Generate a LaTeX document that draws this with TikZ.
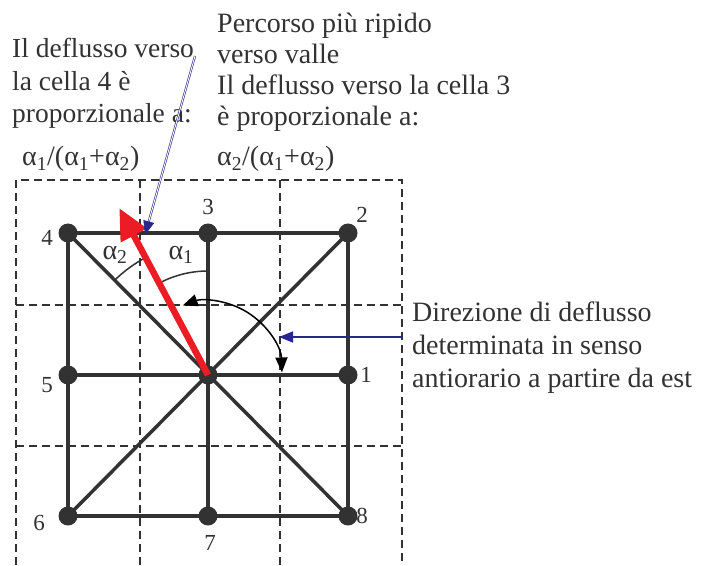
\documentclass[tikz,border=0pt]{standalone}
\usepackage{fontspec}
\setmainfont{Liberation Serif}
\usetikzlibrary{arrows.meta}
\definecolor{gridblack}{RGB}{50,50,50}
\definecolor{flowred}{RGB}{236,28,36}
\definecolor{notenavy}{RGB}{40,40,140}

\begin{document}
\begin{tikzpicture}[x=1pt, y=1pt,
  every node/.style={inner sep=0pt},
  cell/.style={draw=gridblack, line width=1.2pt, dash pattern=on 8pt off 5pt},
  link/.style={draw=gridblack, line width=3.5pt},
  dot/.style={circle, fill=gridblack, minimum size=19pt},
  num/.style={font=\fontsize{23}{26}\selectfont, text=gridblack},
  greek/.style={font=\fontsize{28}{32}\selectfont, text=gridblack},
  note/.style={font=\fontsize{28}{32.5}\selectfont, align=left, anchor=base west, text=gridblack},
  steep/.style={draw=flowred, line width=6.5pt, -{Triangle[length=31pt, width=28pt]}},
  pointer/.style={draw=notenavy, line width=1.6pt, -{Triangle[length=14pt, width=11pt]}},
  angarc/.style={draw=gridblack, line width=1.5pt},
  turn/.style={draw=black, line width=1.5pt, {Triangle[length=15pt, width=12pt]}-{Triangle[length=15pt, width=12pt]}}
]
  \useasboundingbox (0,0) rectangle (708,565);

  % dashed cells
  \draw[cell] (16,0) -- (16,385) -- (402,385) -- (402,0);
  \foreach \gx in {140,280} \draw[cell] (\gx,0) -- (\gx,385);
  \foreach \gy in {260,119} \draw[cell] (16,\gy) -- (402,\gy);

  % cell centres
  \coordinate (n4) at (68,332);
  \coordinate (n3) at (208,332);
  \coordinate (n2) at (348,332);
  \coordinate (n5) at (68,190);
  \coordinate (c)  at (208,190);
  \coordinate (n1) at (348,190);
  \coordinate (n6) at (68,49);
  \coordinate (n7) at (208,49);
  \coordinate (n8) at (348,49);

  \draw[link] (n4) -- (n2) -- (n8) -- (n6) -- cycle;
  \draw[link] (n3) -- (n7);
  \draw[link] (n5) -- (n1);
  \draw[link] (n4) -- (n8);
  \draw[link] (n2) -- (n6);
  \foreach \n in {n4,n3,n2,n5,c,n1,n6,n7,n8} \node[dot] (\n dot) at (\n) {};

  \node[num] at ([shift={(-21,-5)}]n4) {4};
  \node[num] at ([shift={(0,26)}]n3) {3};
  \node[num] at ([shift={(14,18)}]n2) {2};
  \node[num] at ([shift={(18,0)}]n1) {1};
  \node[num] at ([shift={(-21,-10)}]n5) {5};
  \node[num] at ([shift={(-29,-7)}]n6) {6};
  \node[num] at ([shift={(2,-27)}]n7) {7};
  \node[num] at ([shift={(14,0)}]n8) {8};

  % angles
  \draw[angarc] ([shift={(90:104)}]c) arc[start angle=90, end angle=118, radius=104];
  \draw[angarc] ([shift={(118:133)}]c) arc[start angle=118, end angle=135, radius=133];
  \node[greek] (a1) at (181,310) {α\textsubscript{1}};
  \node[greek] (a2) at (115,310) {α\textsubscript{2}};
  \draw[turn] ([shift={(2:74)}]c) arc[start angle=2, end angle=110, radius=74];

  % steepest path
  \coordinate (tip) at ([shift={(118:189)}]c);
  \draw[steep] (c) -- (tip);

  % notes
  \node[note, font=\fontsize{27.5}{32.5}\selectfont] (cell4note) at (12,442)
    {Il deflusso verso\\la cella 4 è\\proporzionale a:};
  \node[note] (cell4share) at (22,399) {α\textsubscript{1}/(α\textsubscript{1}+α\textsubscript{2})};
  \node[note, font=\fontsize{28}{31}\selectfont] (steepnote) at (217,439)
    {Percorso più ripido\\verso valle\\Il deflusso verso la cella 3\\è proporzionale a:};
  \node[note] (cell3share) at (217,399) {α\textsubscript{2}/(α\textsubscript{1}+α\textsubscript{2})};
  \node[note, font=\fontsize{28}{33}\selectfont] (dirnote) at (412,178)
    {Direzione di deflusso\\determinata in senso\\antiorario a partire da est};

  \coordinate (steepfrom) at (195,509);
  \coordinate (steepaim) at (145,330);
  \draw[pointer, line width=0.6pt, double=white, double distance=0.9pt] (steepfrom) -- (steepaim);
  \coordinate (dirfrom) at (402,228);
  \coordinate (diraim) at (279,228);
  \draw[pointer] (dirfrom) -- (diraim);
\end{tikzpicture}
\end{document}
